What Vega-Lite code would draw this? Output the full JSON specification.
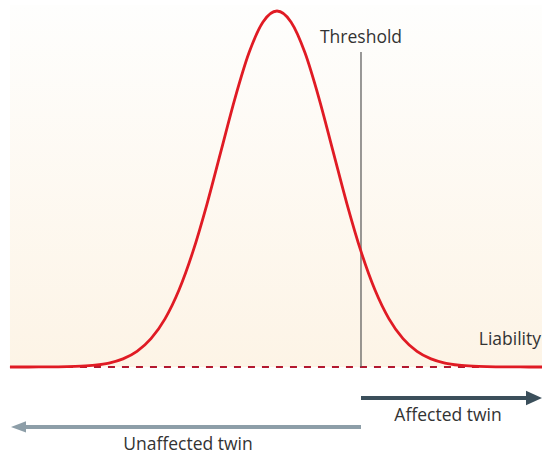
{
  "$schema": "https://vega.github.io/schema/vega-lite/v6.json",
  "width": 542,
  "height": 456,
  "autosize": {"type": "none"},
  "padding": 0,
  "background": "#ffffff",
  "config": {"view": {"stroke": null}, "text": {"font": "Open Sans"}},
  "layer": [
    {
      "data": {"values": [{"x": -4.768, "x2": 4.732, "y": 0, "y2": 1.017}]},
      "mark": {"type": "rect", "fill": {"gradient": "linear", "x1": 0, "y1": 0, "x2": 0, "y2": 1, "stops": [{"offset": 0, "color": "#fefefd"}, {"offset": 1, "color": "#fdf4e6"}]}},
      "encoding": {
        "x": {"field": "x", "type": "quantitative", "scale": {"domain": [-4.946, 4.732], "nice": false, "zero": false}, "axis": null},
        "x2": {"field": "x2"},
        "y": {"field": "y", "type": "quantitative", "scale": {"domain": [-0.25, 1.0309], "nice": false, "zero": false}, "axis": null},
        "y2": {"field": "y2"}
      }
    },
    {
      "data": {"values": [{"x": -4.768, "x2": 4.732, "y": 0}]},
      "mark": {"type": "rule", "color": "#b3182f", "strokeWidth": 2, "strokeDash": [7, 7]},
      "encoding": {
        "x": {"field": "x", "type": "quantitative", "scale": {"domain": [-4.946, 4.732], "nice": false, "zero": false}, "axis": null},
        "x2": {"field": "x2"},
        "y": {"field": "y", "type": "quantitative", "scale": {"domain": [-0.25, 1.0309], "nice": false, "zero": false}, "axis": null}
      }
    },
    {
      "data": {"values": [{"x": 1.5, "y": 0, "y2": 0.885}]},
      "mark": {"type": "rule", "color": "#555555", "strokeWidth": 1.2},
      "encoding": {
        "x": {"field": "x", "type": "quantitative", "scale": {"domain": [-4.946, 4.732], "nice": false, "zero": false}, "axis": null},
        "y": {"field": "y", "type": "quantitative", "scale": {"domain": [-0.25, 1.0309], "nice": false, "zero": false}, "axis": null},
        "y2": {"field": "y2"}
      }
    },
    {
      "data": {"values": [
        {"x": -4.768, "y": 0.00001}, {"x": -4.5, "y": 0.00004}, {"x": -4.25, "y": 0.00012}, {"x": -4.0, "y": 0.00034},
        {"x": -3.75, "y": 0.00088}, {"x": -3.5, "y": 0.00219}, {"x": -3.25, "y": 0.00509}, {"x": -3.0, "y": 0.0111},
        {"x": -2.75, "y": 0.0228}, {"x": -2.5, "y": 0.0439}, {"x": -2.25, "y": 0.0796}, {"x": -2.0, "y": 0.1353},
        {"x": -1.75, "y": 0.2163}, {"x": -1.5, "y": 0.3247}, {"x": -1.25, "y": 0.4578}, {"x": -1.0, "y": 0.6065},
        {"x": -0.75, "y": 0.7548}, {"x": -0.5, "y": 0.8825}, {"x": -0.25, "y": 0.9692}, {"x": 0, "y": 1},
        {"x": 0.25, "y": 0.9692}, {"x": 0.5, "y": 0.8825}, {"x": 0.75, "y": 0.7548}, {"x": 1.0, "y": 0.6065},
        {"x": 1.25, "y": 0.4578}, {"x": 1.5, "y": 0.3247}, {"x": 1.75, "y": 0.2163}, {"x": 2.0, "y": 0.1353},
        {"x": 2.25, "y": 0.0796}, {"x": 2.5, "y": 0.0439}, {"x": 2.75, "y": 0.0228}, {"x": 3.0, "y": 0.0111},
        {"x": 3.25, "y": 0.00509}, {"x": 3.5, "y": 0.00219}, {"x": 3.75, "y": 0.00088}, {"x": 4.0, "y": 0.00034},
        {"x": 4.25, "y": 0.00012}, {"x": 4.5, "y": 0.00004}, {"x": 4.732, "y": 0.00001}
      ]},
      "mark": {"type": "line", "color": "#e01b24", "strokeWidth": 2.8, "interpolate": "monotone"},
      "encoding": {
        "x": {"field": "x", "type": "quantitative", "scale": {"domain": [-4.946, 4.732], "nice": false, "zero": false}, "axis": null},
        "y": {"field": "y", "type": "quantitative", "scale": {"domain": [-0.25, 1.0309], "nice": false, "zero": false}, "axis": null}
      }
    },
    {
      "data": {"values": [
        {"arrow": "Affected twin", "x": 1.5, "x2": 4.5, "y": -0.0871},
        {"arrow": "Unaffected twin", "x": 1.5, "x2": -4.55, "y": -0.1685}
      ]},
      "mark": {"type": "rule", "strokeWidth": 4},
      "encoding": {
        "x": {"field": "x", "type": "quantitative", "scale": {"domain": [-4.946, 4.732], "nice": false, "zero": false}, "axis": null},
        "x2": {"field": "x2"},
        "y": {"field": "y", "type": "quantitative", "scale": {"domain": [-0.25, 1.0309], "nice": false, "zero": false}, "axis": null},
        "color": {"field": "arrow", "type": "nominal", "scale": {"domain": ["Affected twin", "Unaffected twin"], "range": ["#3b4f5b", "#8d9ea8"]}, "legend": null}
      }
    },
    {
      "data": {"values": [{"x": 4.589, "y": -0.0871}]},
      "mark": {"type": "point", "shape": "M1,0L-1,-0.9L-1,0.9Z", "size": 256, "filled": true, "opacity": 1, "color": "#3b4f5b", "strokeWidth": 0},
      "encoding": {
        "x": {"field": "x", "type": "quantitative", "scale": {"domain": [-4.946, 4.732], "nice": false, "zero": false}, "axis": null},
        "y": {"field": "y", "type": "quantitative", "scale": {"domain": [-0.25, 1.0309], "nice": false, "zero": false}, "axis": null}
      }
    },
    {
      "data": {"values": [{"x": -4.616, "y": -0.1685}]},
      "mark": {"type": "point", "shape": "M-1,0L1,-0.75L1,0.75Z", "size": 225, "filled": true, "opacity": 1, "color": "#8d9ea8", "strokeWidth": 0},
      "encoding": {
        "x": {"field": "x", "type": "quantitative", "scale": {"domain": [-4.946, 4.732], "nice": false, "zero": false}, "axis": null},
        "y": {"field": "y", "type": "quantitative", "scale": {"domain": [-0.25, 1.0309], "nice": false, "zero": false}, "axis": null}
      }
    },
    {
      "data": {"values": [
        {"label": "Threshold", "x": 1.5, "y": 0.924},
        {"label": "Affected twin", "x": 3.054, "y": -0.1376},
        {"label": "Unaffected twin", "x": -1.589, "y": -0.219}
      ]},
      "mark": {"type": "text", "fontSize": 17.5, "color": "#333333", "align": "center", "baseline": "middle"},
      "encoding": {
        "x": {"field": "x", "type": "quantitative", "scale": {"domain": [-4.946, 4.732], "nice": false, "zero": false}, "axis": null},
        "y": {"field": "y", "type": "quantitative", "scale": {"domain": [-0.25, 1.0309], "nice": false, "zero": false}, "axis": null},
        "text": {"field": "label"}
      }
    },
    {
      "data": {"values": [{"label": "Liability", "x": 4.714, "y": 0.0758}]},
      "mark": {"type": "text", "fontSize": 17.5, "color": "#333333", "align": "right", "baseline": "middle"},
      "encoding": {
        "x": {"field": "x", "type": "quantitative", "scale": {"domain": [-4.946, 4.732], "nice": false, "zero": false}, "axis": null},
        "y": {"field": "y", "type": "quantitative", "scale": {"domain": [-0.25, 1.0309], "nice": false, "zero": false}, "axis": null},
        "text": {"field": "label"}
      }
    }
  ]
}
